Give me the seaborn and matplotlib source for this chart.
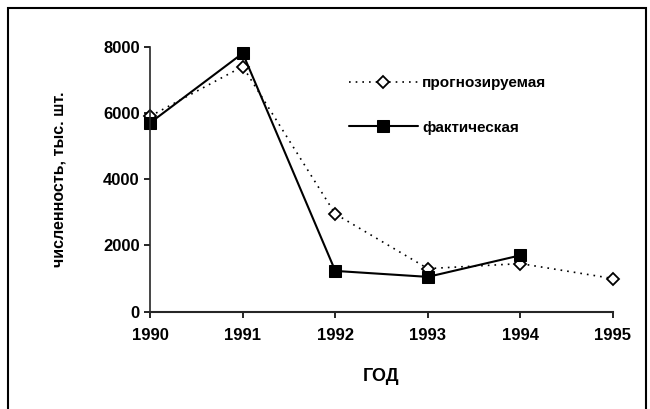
import pandas as pd
import matplotlib.pyplot as plt
import seaborn as sns
from matplotlib.patches import Rectangle

# data
years_forecast = [1990, 1991, 1992, 1993, 1994, 1995]
forecast = [5900, 7400, 2950, 1300, 1450, 1000]
years_actual = [1990, 1991, 1992, 1993, 1994]
actual = [5700, 7800, 1230, 1050, 1700]

df_f = pd.DataFrame({'year': years_forecast, 'value': forecast})
df_a = pd.DataFrame({'year': years_actual, 'value': actual})

sns.set_style('ticks')
plt.rcParams['font.family'] = ['Liberation Sans', 'DejaVu Sans']
plt.rcParams['text.color'] = 'black'
plt.rcParams['axes.labelcolor'] = 'black'

fig = plt.figure(figsize=(6.5, 4.09), dpi=100)
ax = fig.add_axes([0.231, 0.238, 0.712, 0.648])

sns.lineplot(x='year', y='value', data=df_f, ax=ax, color='black', linewidth=1.2,
             linestyle=(0, (1, 3)), marker='D', markersize=6, markerfacecolor='white',
             markeredgecolor='black', markeredgewidth=1.3, label='прогнозируемая',
             clip_on=False)
sns.lineplot(x='year', y='value', data=df_a, ax=ax, color='black', linewidth=1.5,
             marker='s', markersize=8, markerfacecolor='black', markeredgecolor='black',
             label='фактическая', clip_on=False)

ax.set_xlim(1990, 1995)
ax.set_ylim(0, 8000)
ax.set_xticks(years_forecast)
ax.set_yticks([0, 2000, 4000, 6000, 8000])
ax.tick_params(axis='both', labelsize=12, width=1.2, length=4, colors='black')
for lbl in ax.get_xticklabels() + ax.get_yticklabels():
    lbl.set_fontweight('bold')
ax.xaxis.set_tick_params(pad=8)
sns.despine(ax=ax)
ax.spines['left'].set_linewidth(1.2)
ax.spines['bottom'].set_linewidth(1.5)

ax.set_xlabel('ГОД', fontsize=13, fontweight='bold', labelpad=18)
ax.set_ylabel('численность, тыс. шт.', fontsize=11.5, fontweight='bold', labelpad=26)

leg = ax.legend(loc='upper left', bbox_to_anchor=(0.4, 0.94), frameon=False,
                handlelength=4.5, handletextpad=0.3, labelspacing=2.0,
                prop={'size': 11, 'weight': 'bold'})

# frame around the whole picture
fig.patches.append(Rectangle((8 / 650, -0.05), 638 / 650, 1.05 - 8 / 409,
                             transform=fig.transFigure, fill=False,
                             edgecolor='black', linewidth=1.5))

fig.savefig('out.png', dpi=100)
